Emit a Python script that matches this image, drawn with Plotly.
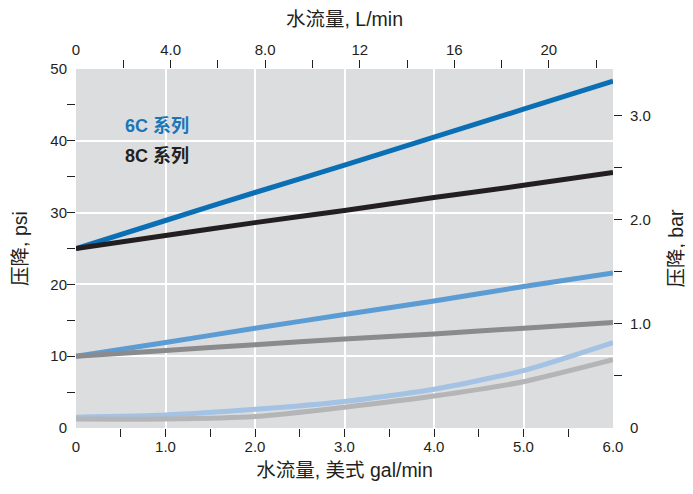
import plotly.graph_objects as go

# data (x in US gal/min, y in psi)
flow_gpm = [0, 1, 2, 3, 4, 5, 6]
s6c_high = [25.0, 28.9, 32.8, 36.6, 40.5, 44.4, 48.3]
s8c_high = [25.0, 26.8, 28.6, 30.3, 32.1, 33.8, 35.6]
s6c_mid = [10.0, 11.9, 13.9, 15.8, 17.7, 19.7, 21.6]
s8c_mid = [10.0, 10.8, 11.6, 12.4, 13.1, 13.9, 14.7]
s6c_low = [1.5, 1.8, 2.6, 3.7, 5.4, 8.0, 11.9]
s8c_low = [1.25, 1.25, 1.6, 2.9, 4.45, 6.45, 9.5]

x_ticks = [0, 1, 2, 3, 4, 5, 6]
x_ticktext = ["0", "1.0", "2.0", "3.0", "4.0", "5.0", "6.0"]
x_minor = [0.5, 1, 1.5, 2, 2.5, 3, 3.5, 4, 4.5, 5, 5.5]
y_ticks = [0, 10, 20, 30, 40, 50]
y_minor = [5, 10, 15, 20, 25, 30, 35, 40, 45]
top_ticks = [0, 4, 8, 12, 16, 20]
top_ticktext = ["0", "4.0", "8.0", "12", "16", "20"]
top_minor = [2, 4, 6, 8, 10, 12, 14, 16, 18, 20, 22]
bar_ticks = [0, 1, 2, 3]
bar_ticktext = ["0", "1.0", "2.0", "3.0"]
bar_minor = [0.5, 1, 1.5, 2, 2.5, 3]

GAL_TO_L = 3.78541
PSI_PER_BAR = 14.5038

FONT = "Liberation Sans Narrow, Liberation Sans, Noto Sans CJK SC, sans-serif"
TXT = "#231f20"
CLEAR = "rgba(0,0,0,0)"

series = [
    (s6c_low, "#a3c2e4"),
    (s8c_low, "#b5b5b7"),
    (s6c_mid, "#5c9cd4"),
    (s8c_mid, "#8b8b8d"),
    (s6c_high, "#0a6fb4"),
    (s8c_high, "#231f20"),
]

fig = go.Figure()
for ys, col in series:
    fig.add_trace(go.Scatter(x=flow_gpm, y=ys, mode="lines",
                             line=dict(color=col, width=5, shape="spline", smoothing=0.6),
                             hoverinfo="skip", showlegend=False))

# helper trace for secondary axes
fig.add_trace(go.Scatter(x=[0], y=[0], xaxis="x2", yaxis="y2", mode="markers",
                         marker=dict(opacity=0), hoverinfo="skip", showlegend=False))

tickfont = dict(family=FONT, size=15, color=TXT)
titlefont = dict(family=FONT, size=19.5, color=TXT)


def minor(vals):
    return dict(tickmode="array", tickvals=vals, ticks="outside",
                ticklen=8, tickcolor=TXT, tickwidth=1, showgrid=False)


fig.update_layout(
    width=693, height=494,
    margin=dict(l=68, r=88, t=61, b=74),
    paper_bgcolor="white",
    plot_bgcolor="#dcdddf",
    font=dict(family=FONT, color=TXT),
    xaxis=dict(range=[0, 6], tickmode="array", tickvals=x_ticks, ticktext=x_ticktext,
               ticks="outside", ticklen=5, tickcolor=CLEAR, automargin=False,
               showgrid=True, gridcolor="white", gridwidth=1.5, zeroline=False,
               showline=False, tickfont=tickfont, minor=minor(x_minor),
               title=dict(text="水流量, 美式 gal/min", font=titlefont, standoff=9)),
    yaxis=dict(range=[0, 50], tickmode="array", tickvals=y_ticks,
               ticks="outside", ticklen=5, tickcolor=CLEAR, automargin=False,
               showgrid=True, gridcolor="white", gridwidth=1.5, zeroline=False,
               showline=False, tickfont=tickfont, minor=minor(y_minor),
               title=dict(text="压降, psi", font=titlefont, standoff=17)),
    xaxis2=dict(range=[0, 6 * GAL_TO_L], overlaying="x", side="top", tickmode="array",
                tickvals=top_ticks, ticktext=top_ticktext,
                ticks="outside", ticklen=7, tickcolor=CLEAR, automargin=False,
                showgrid=False, zeroline=False, showline=False, tickfont=tickfont,
                minor=minor(top_minor),
                title=dict(text="水流量, L/min", font=titlefont, standoff=24)),
    yaxis2=dict(range=[0, 50 / PSI_PER_BAR], overlaying="y", side="right", tickmode="array",
                tickvals=bar_ticks, ticktext=bar_ticktext,
                ticks="outside", ticklen=13, tickcolor=CLEAR, automargin=False,
                showgrid=False, zeroline=False, showline=False, tickfont=tickfont,
                minor=minor(bar_minor),
                title=dict(text="压降, bar", font=titlefont, standoff=19)),
    annotations=[
        dict(text="<b>6C 系列</b>", x=0.52, y=42.1, xref="x", yref="y", xanchor="left",
             showarrow=False, font=dict(family=FONT, size=18, color="#1a75b8")),
        dict(text="<b>8C 系列</b>", x=0.52, y=38.0, xref="x", yref="y", xanchor="left",
             showarrow=False, font=dict(family=FONT, size=18, color=TXT)),
    ],
)

fig.write_html("out.html")
